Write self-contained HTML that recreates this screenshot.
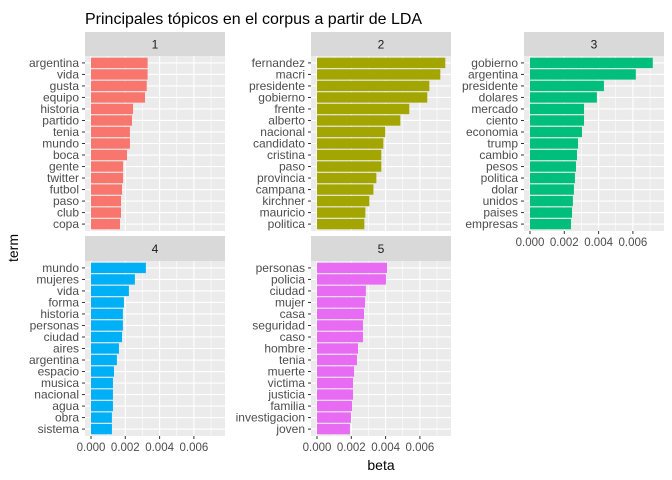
<!DOCTYPE html>
<html><head><meta charset="utf-8"><style>
body{margin:0;background:#fff}
svg{display:block;font-family:"Liberation Sans",Arial,sans-serif}
</style></head><body>
<svg id="c" width="672" height="480">
<text x="85" y="24" font-size="16" fill="#000">Principales tópicos en el corpus a partir de LDA</text>
<text transform="translate(18,248) rotate(-90)" text-anchor="middle" font-size="14" fill="#000">term</text>
<text x="381" y="470" text-anchor="middle" font-size="14" fill="#000">beta</text>
</svg>
<script>
const topics=["1","2","3","4","5"];
const terms1=["argentina","vida","gusta","equipo","historia","partido","tenia","mundo","boca","gente","twitter","futbol","paso","club","copa"];
const beta1=[0.0033,0.0033,0.00325,0.00315,0.00245,0.00239,0.00227,0.00227,0.0021,0.00187,0.00187,0.00181,0.00175,0.00175,0.00169];
const terms2=["fernandez","macri","presidente","gobierno","frente","alberto","nacional","candidato","cristina","paso","provincia","campana","kirchner","mauricio","politica"];
const beta2=[0.00748,0.00719,0.00655,0.00643,0.00538,0.00486,0.00398,0.00387,0.00375,0.00375,0.00346,0.00329,0.00305,0.00282,0.00276];
const terms3=["gobierno","argentina","presidente","dolares","mercado","ciento","economia","trump","cambio","pesos","politica","dolar","unidos","paises","empresas"];
const beta3=[0.00716,0.00617,0.00431,0.0039,0.00315,0.00315,0.00303,0.0028,0.00274,0.00268,0.00262,0.00256,0.0025,0.00245,0.00239];
const terms4=["mundo","mujeres","vida","forma","historia","personas","ciudad","aires","argentina","espacio","musica","nacional","agua","obra","sistema"];
const beta4=[0.0032,0.00256,0.00221,0.00192,0.00186,0.00186,0.00181,0.00163,0.00151,0.00134,0.00128,0.00128,0.00128,0.00122,0.00122];
const terms5=["personas","policia","ciudad","mujer","casa","seguridad","caso","hombre","tenia","muerte","victima","justicia","familia","investigacion","joven"];
const beta5=[0.00408,0.00402,0.00285,0.0028,0.00274,0.00268,0.00268,0.00239,0.00233,0.00216,0.0021,0.0021,0.00204,0.00198,0.00192];
const xTicks=[0,0.002,0.004,0.006];
const xTickLabels=["0.000","0.002","0.004","0.006"];
const xMinor=[0.001,0.003,0.005,0.007];
const colors=["#F8766D","#A3A500","#00BF7D","#00B0F6","#E76BF3"];
const allTerms=[terms1,terms2,terms3,terms4,terms5];
const allBeta=[beta1,beta2,beta3,beta4,beta5];
const NS="http://www.w3.org/2000/svg";
const svg=document.getElementById("c");
function mk(t,a,p){const e=document.createElementNS(NS,t);for(const k in a)e.setAttribute(k,a[k]);(p||svg).appendChild(e);return e;}
const panels=[{x:85,st:32,top:56,bot:231,axis:false},{x:311,st:32,top:56,bot:231,axis:false},{x:524,st:32,top:56,bot:231,axis:true},
{x:85,st:236,top:261,bot:436,axis:true},{x:311,st:236,top:261,bot:436,axis:true}];
const PW=140,X0OFF=6,PXPER=17150;
panels.forEach((p,i)=>{
 const g=mk("g",{});
 
 
 const xs=v=>p.x+X0OFF+v*PXPER;
 const n=allTerms[i].length,h=p.bot-p.top,band=h/(n-1+1.2);
 const ys=j=>p.top+(0.6+j)*band;
 const strip=mk("rect",{x:p.x,y:p.st,width:PW,height:p.top-p.st,fill:"#D9D9D9"},g);
 
 
 const st=mk("text",{x:p.x+PW/2,y:(p.st+p.top)/2+4.5,"text-anchor":"middle","font-size":"12",fill:"#1A1A1A"},g);st.textContent=topics[i];
 
 
 mk("rect",{x:p.x,y:p.top,width:PW,height:h,fill:"#EBEBEB"},g);
 xMinor.forEach(v=>mk("line",{x1:xs(v),x2:xs(v),y1:p.top,y2:p.bot,stroke:"#fff","stroke-width":0.6},g));
 xTicks.forEach(v=>mk("line",{x1:xs(v),x2:xs(v),y1:p.top,y2:p.bot,stroke:"#fff","stroke-width":1.1},g));
 allTerms[i].forEach((t,j)=>{
  mk("line",{x1:p.x,x2:p.x+PW,y1:ys(j),y2:ys(j),stroke:"#fff","stroke-width":1.1},g);
 });
 allTerms[i].forEach((t,j)=>{
  const b=mk("rect",{x:xs(0),y:ys(j)-0.45*band,width:xs(allBeta[i][j])-xs(0),height:0.9*band,fill:colors[i]},g);
  
  
  mk("line",{x1:p.x-3,x2:p.x,y1:ys(j),y2:ys(j),stroke:"#333","stroke-width":1},g);
  const l=mk("text",{x:p.x-6,y:ys(j)+4,"text-anchor":"end","font-size":"12",fill:"#4D4D4D"},g);l.textContent=t;
  
  
 });
 if(p.axis){xTicks.forEach((v,k)=>{
  mk("line",{x1:xs(v),x2:xs(v),y1:p.bot,y2:p.bot+3,stroke:"#333","stroke-width":1},g);
  const l=mk("text",{x:xs(v),y:p.bot+15,"text-anchor":"middle","font-size":"11.5",fill:"#4D4D4D"},g);l.textContent=xTickLabels[k];
  
  
 });}
});
</script>
</body></html>
